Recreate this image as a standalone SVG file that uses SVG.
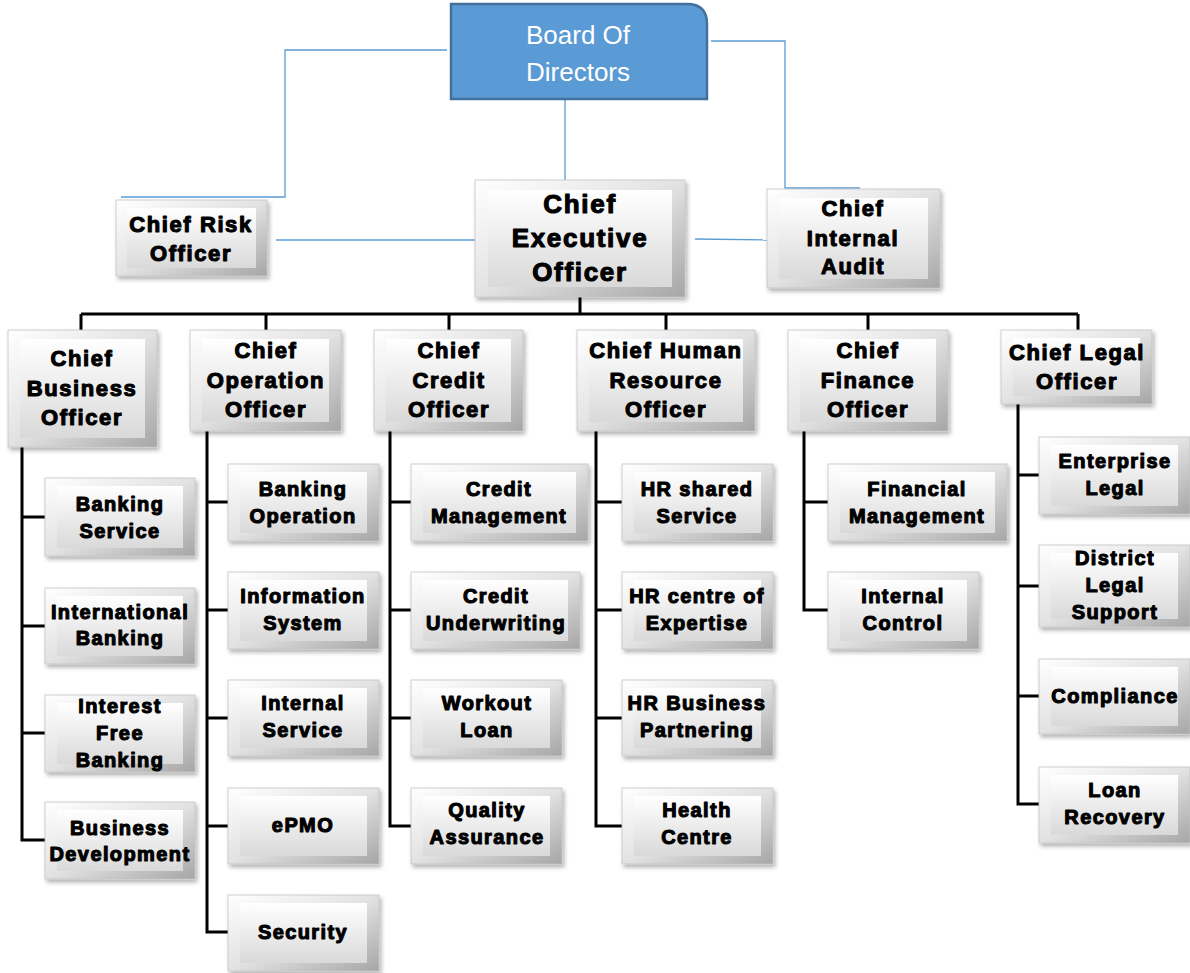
<svg xmlns="http://www.w3.org/2000/svg" width="1190" height="973" viewBox="0 0 1190 973">
<defs>
<linearGradient id="gOut" x1="0" y1="0" x2="1" y2="1">
<stop offset="0" stop-color="#ffffff"/>
<stop offset="0.5" stop-color="#e2e2e2"/>
<stop offset="1" stop-color="#a6a6a6"/>
</linearGradient>
<linearGradient id="gIn" x1="0" y1="0" x2="0" y2="1">
<stop offset="0" stop-color="#ffffff"/>
<stop offset="1" stop-color="#d9d9d9"/>
</linearGradient>
<filter id="sh" x="-10%" y="-10%" width="125%" height="130%">
<feDropShadow dx="2" dy="3" stdDeviation="2" flood-color="#000" flood-opacity="0.3"/>
</filter>
</defs>
<style>
.o{fill:url(#gOut);stroke:#c4c4c4;stroke-width:0.8;filter:url(#sh)}
.i{fill:url(#gIn);stroke:none}
text{font-family:"Liberation Sans",Arial,sans-serif;font-weight:bold;fill:#000;text-anchor:middle;stroke:#000;stroke-width:1.1;stroke-linejoin:round}
.c{font-size:20px;letter-spacing:1.4px}
.h{font-size:22px;letter-spacing:1.6px}
.e{font-size:26px;letter-spacing:1.7px}
.b{font-size:26px;font-weight:normal;fill:#fff;stroke:none;letter-spacing:0}
.bl{fill:none;stroke:#5B9BD5;stroke-width:1.3}
.k{fill:none;stroke:#000;stroke-width:3}
</style>
<rect width="1190" height="973" fill="#fff"/>
<g id="connectors">
<path class="bl" d="M447,50 H285 V197 H121"/>
<path class="bl" d="M711,41 H785 V188 H860"/>
<path class="bl" d="M565,99 V180"/>
<path class="bl" d="M276,240 H478"/>
<path class="bl" d="M695,239 L767,240"/>
<path class="k" d="M81,314 H1078 M580,297 V314 M81,314 V330 M266,314 V330 M449,314 V330 M666,314 V330 M868,314 V330 M1078,314 V330"/>
<path class="k" d="M22,447 V840 H45 M22,517 H45 M22,626 H45 M22,733 H45"/>
<path class="k" d="M207,431 V932 H228 M207,502 H228 M207,610 H228 M207,718 H228 M207,826 H228"/>
<path class="k" d="M390,431 V826 H411 M390,502 H411 M390,610 H411 M390,718 H411"/>
<path class="k" d="M596,431 V826 H622 M596,502 H622 M596,610 H622 M596,718 H622"/>
<path class="k" d="M804,431 V610 H828 M804,502 H828"/>
<path class="k" d="M1018,404 V804 H1039 M1018,475 H1039 M1018,586 H1039 M1018,696 H1039"/>
</g>
<g id="board">
<path d="M451,4 H687 Q707,4 707,24 V99 H451 Z" fill="#5B9BD5" stroke="#41719C" stroke-width="2.5"/>
<text class="b" x="578" y="44">Board Of</text>
<text class="b" x="578" y="81">Directors</text>
</g>
<g id="cro">
<rect class="o" x="116" y="200" width="151" height="76"/><rect class="i" x="127" y="208" width="129" height="60"/>
<text class="h" x="191" y="232">Chief Risk</text><text class="h" x="191" y="261">Officer</text>
</g>
<g id="ceo">
<rect class="o" x="475" y="180" width="210" height="117"/><rect class="i" x="488" y="190" width="184" height="97"/>
<text class="e" x="580" y="213">Chief</text><text class="e" x="580" y="247">Executive</text><text class="e" x="580" y="281">Officer</text>
</g>
<g id="cia">
<rect class="o" x="767" y="189" width="173" height="99"/><rect class="i" x="779" y="198" width="149" height="81"/>
<text class="h" x="853" y="216">Chief</text><text class="h" x="853" y="246">Internal</text><text class="h" x="853" y="274">Audit</text>
</g>
<g id="cbo">
<rect class="o" x="8" y="330" width="149" height="117"/><rect class="i" x="20" y="339" width="125" height="99"/>
<text class="h" x="82" y="366">Chief</text><text class="h" x="82" y="396">Business</text><text class="h" x="82" y="425">Officer</text>
</g>
<g id="coo">
<rect class="o" x="190" y="330" width="151" height="101"/><rect class="i" x="202" y="339" width="127" height="83"/>
<text class="h" x="266" y="358">Chief</text><text class="h" x="266" y="388">Operation</text><text class="h" x="266" y="417">Officer</text>
</g>
<g id="cco">
<rect class="o" x="374" y="330" width="149" height="101"/><rect class="i" x="386" y="339" width="125" height="83"/>
<text class="h" x="449" y="358">Chief</text><text class="h" x="449" y="388">Credit</text><text class="h" x="449" y="417">Officer</text>
</g>
<g id="chro">
<rect class="o" x="577" y="330" width="178" height="101"/><rect class="i" x="589" y="339" width="154" height="83"/>
<text class="h" x="666" y="358">Chief Human</text><text class="h" x="666" y="388">Resource</text><text class="h" x="666" y="417">Officer</text>
</g>
<g id="cfo">
<rect class="o" x="788" y="330" width="160" height="101"/><rect class="i" x="800" y="339" width="136" height="83"/>
<text class="h" x="868" y="358">Chief</text><text class="h" x="868" y="388">Finance</text><text class="h" x="868" y="417">Officer</text>
</g>
<g id="clo">
<rect class="o" x="1001" y="330" width="151" height="74"/><rect class="i" x="1013" y="338" width="127" height="58"/>
<text class="h" x="1077" y="360">Chief Legal</text><text class="h" x="1077" y="389">Officer</text>
</g>
<g id="banking-service">
<rect class="o" x="45" y="478" width="150" height="78"/><rect class="i" x="57" y="486" width="126" height="62"/>
<text class="c" x="120" y="511">Banking</text><text class="c" x="120" y="538">Service</text>
</g>
<g id="international-banking">
<rect class="o" x="45" y="588" width="150" height="76"/><rect class="i" x="57" y="596" width="126" height="60"/>
<text class="c" x="120" y="619">International</text><text class="c" x="120" y="645">Banking</text>
</g>
<g id="interest-free-banking">
<rect class="o" x="45" y="695" width="150" height="77"/><rect class="i" x="57" y="703" width="126" height="61"/>
<text class="c" x="120" y="713">Interest</text><text class="c" x="120" y="740">Free</text><text class="c" x="120" y="767">Banking</text>
</g>
<g id="business-development">
<rect class="o" x="45" y="802" width="150" height="77"/><rect class="i" x="57" y="810" width="126" height="61"/>
<text class="c" x="120" y="835">Business</text><text class="c" x="120" y="861">Development</text>
</g>
<g id="banking-operation">
<rect class="o" x="228" y="464" width="151" height="77"/><rect class="i" x="240" y="472" width="127" height="61"/>
<text class="c" x="303" y="496">Banking</text><text class="c" x="303" y="523">Operation</text>
</g>
<g id="information-system">
<rect class="o" x="228" y="572" width="151" height="77"/><rect class="i" x="240" y="580" width="127" height="61"/>
<text class="c" x="303" y="603">Information</text><text class="c" x="303" y="630">System</text>
</g>
<g id="internal-service">
<rect class="o" x="228" y="680" width="151" height="76"/><rect class="i" x="240" y="688" width="127" height="60"/>
<text class="c" x="303" y="710">Internal</text><text class="c" x="303" y="737">Service</text>
</g>
<g id="epmo">
<rect class="o" x="228" y="788" width="151" height="76"/><rect class="i" x="240" y="796" width="127" height="60"/>
<text class="c" x="303" y="832">ePMO</text>
</g>
<g id="security">
<rect class="o" x="228" y="895" width="151" height="76"/><rect class="i" x="240" y="903" width="127" height="60"/>
<text class="c" x="303" y="939">Security</text>
</g>
<g id="credit-management">
<rect class="o" x="411" y="464" width="177" height="77"/><rect class="i" x="423" y="472" width="153" height="61"/>
<text class="c" x="499" y="496">Credit</text><text class="c" x="499" y="523">Management</text>
</g>
<g id="credit-underwriting">
<rect class="o" x="411" y="572" width="169" height="77"/><rect class="i" x="423" y="580" width="145" height="61"/>
<text class="c" x="496" y="603">Credit</text><text class="c" x="496" y="630">Underwriting</text>
</g>
<g id="workout-loan">
<rect class="o" x="411" y="680" width="151" height="76"/><rect class="i" x="423" y="688" width="127" height="60"/>
<text class="c" x="487" y="710">Workout</text><text class="c" x="487" y="737">Loan</text>
</g>
<g id="quality-assurance">
<rect class="o" x="411" y="788" width="151" height="76"/><rect class="i" x="423" y="796" width="127" height="60"/>
<text class="c" x="487" y="817">Quality</text><text class="c" x="487" y="844">Assurance</text>
</g>
<g id="hr-shared-service">
<rect class="o" x="622" y="464" width="151" height="77"/><rect class="i" x="634" y="472" width="127" height="61"/>
<text class="c" x="697" y="496">HR shared</text><text class="c" x="697" y="523">Service</text>
</g>
<g id="hr-centre-of-expertise">
<rect class="o" x="622" y="572" width="151" height="77"/><rect class="i" x="634" y="580" width="127" height="61"/>
<text class="c" x="697" y="603">HR centre of</text><text class="c" x="697" y="630">Expertise</text>
</g>
<g id="hr-business-partnering">
<rect class="o" x="622" y="680" width="151" height="76"/><rect class="i" x="634" y="688" width="127" height="60"/>
<text class="c" x="697" y="710">HR Business</text><text class="c" x="697" y="737">Partnering</text>
</g>
<g id="health-centre">
<rect class="o" x="622" y="788" width="151" height="76"/><rect class="i" x="634" y="796" width="127" height="60"/>
<text class="c" x="697" y="817">Health</text><text class="c" x="697" y="844">Centre</text>
</g>
<g id="financial-management">
<rect class="o" x="828" y="464" width="179" height="77"/><rect class="i" x="840" y="472" width="155" height="61"/>
<text class="c" x="917" y="496">Financial</text><text class="c" x="917" y="523">Management</text>
</g>
<g id="internal-control">
<rect class="o" x="828" y="572" width="151" height="77"/><rect class="i" x="840" y="580" width="127" height="61"/>
<text class="c" x="903" y="603">Internal</text><text class="c" x="903" y="630">Control</text>
</g>
<g id="enterprise-legal">
<rect class="o" x="1039" y="437" width="151" height="77"/><rect class="i" x="1051" y="445" width="127" height="61"/>
<text class="c" x="1115" y="468">Enterprise</text><text class="c" x="1115" y="495">Legal</text>
</g>
<g id="district-legal-support">
<rect class="o" x="1039" y="545" width="151" height="82"/><rect class="i" x="1051" y="553" width="127" height="66"/>
<text class="c" x="1115" y="565">District</text><text class="c" x="1115" y="592">Legal</text><text class="c" x="1115" y="619">Support</text>
</g>
<g id="compliance">
<rect class="o" x="1039" y="659" width="151" height="75"/><rect class="i" x="1051" y="667" width="127" height="59"/>
<text class="c" x="1115" y="703">Compliance</text>
</g>
<g id="loan-recovery">
<rect class="o" x="1039" y="767" width="151" height="76"/><rect class="i" x="1051" y="775" width="127" height="60"/>
<text class="c" x="1115" y="797">Loan</text><text class="c" x="1115" y="824">Recovery</text>
</g>
</svg>
